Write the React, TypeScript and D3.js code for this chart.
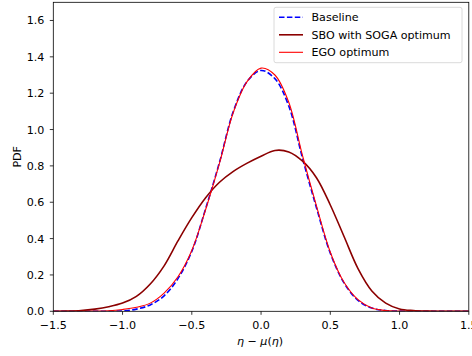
import React from 'react';
import * as d3 from 'd3';

// eta - mu(eta) grid shared by all three curves
const etaGrid = [
  -1.5, -1.4, -1.3, -1.2, -1.1, -1.0, -0.9, -0.8, -0.7, -0.6, -0.5, -0.4, -0.3, -0.2, -0.1,
  0.0, 0.1, 0.2, 0.3, 0.4, 0.5, 0.6, 0.7, 0.8, 0.9, 1.0, 1.1, 1.2, 1.3, 1.4, 1.5,
];

const baselinePdf = [
  0, 0, 0, 0, 0.0005, 0.002, 0.012, 0.035, 0.085, 0.18, 0.33, 0.565, 0.82, 1.1, 1.265,
  1.325, 1.28, 1.13, 0.84, 0.57, 0.32, 0.155, 0.06, 0.018, 0.004, 0.001, 0, 0, 0, 0, 0,
];

const sboPdf = [
  0, 0.001, 0.004, 0.012, 0.025, 0.045, 0.082, 0.15, 0.25, 0.387, 0.515, 0.625, 0.71, 0.77, 0.815,
  0.853, 0.885, 0.877, 0.826, 0.735, 0.585, 0.41, 0.235, 0.112, 0.045, 0.013, 0.004, 0.001, 0, 0, 0,
];

const egoPdf = [
  0, 0, 0.0005, 0.001, 0.003, 0.01, 0.022, 0.045, 0.1, 0.19, 0.335, 0.56, 0.815, 1.095, 1.265,
  1.338, 1.3, 1.15, 0.855, 0.58, 0.325, 0.158, 0.064, 0.018, 0.004, 0.001, 0, 0, 0, 0, 0,
];

const xTicks = [-1.5, -1.0, -0.5, 0.0, 0.5, 1.0, 1.5];
const yTicks = [0.0, 0.2, 0.4, 0.6, 0.8, 1.0, 1.2, 1.4, 1.6];

const seriesList = [
  { name: 'Baseline', values: baselinePdf, color: '#0000ff', width: 1.6, dash: '5.5,2.4' },
  { name: 'SBO with SOGA optimum', values: sboPdf, color: '#8b0000', width: 1.6, dash: null },
  { name: 'EGO optimum', values: egoPdf, color: '#ff0000', width: 1.1, dash: null },
];

const W = 472;
const H = 356;
const FONT = 'DejaVu Sans, sans-serif';
const FS = 11.1;
const fmt = (v: number) => v.toFixed(1).replace('-', '\u2212');

export default function App() {
  const x = d3.scaleLinear().domain([-1.5, 1.5]).range([53.3, 468.8]);
  const y = d3.scaleLinear().domain([0, 1.7]).range([311.3, 2.3]);

  const line = d3
    .line<number>()
    .x((_, i) => x(etaGrid[i]))
    .y((d) => y(d))
    .curve(d3.curveCatmullRom.alpha(0.5));

  const [x0, x1] = x.range();
  const [y0, y1] = y.range();

  return (
    <svg
      width={W}
      height={H}
      style={{ position: 'absolute', left: 0, top: 0, background: '#fff' }}
      fontFamily={FONT}
    >
      <rect width={W} height={H} fill="#fff" />
      <defs>
        <clipPath id="plot">
          <rect x={x0} y={y1} width={x1 - x0} height={y0 - y1} />
        </clipPath>
      </defs>

      {/* curves */}
      <g clipPath="url(#plot)">
        {seriesList.map((s) => (
          <path
            key={s.name}
            d={line(s.values) || ''}
            fill="none"
            stroke={s.color}
            strokeWidth={s.width}
            strokeDasharray={s.dash || undefined}
          />
        ))}
      </g>

      {/* spines */}
      <rect x={x0} y={y1} width={x1 - x0} height={y0 - y1} fill="none" stroke="#000" strokeWidth={0.8} />

      {/* x axis */}
      {xTicks.map((t) => (
        <g key={'x' + t}>
          <line x1={x(t)} x2={x(t)} y1={y0} y2={y0 + 3.5} stroke="#000" strokeWidth={0.8} />
          <text x={x(t)} y={y0 + 18} fontSize={FS} textAnchor="middle" fill="#000">
            {fmt(t)}
          </text>
        </g>
      ))}

      {/* y axis */}
      {yTicks.map((t) => (
        <g key={'y' + t}>
          <line x1={x0 - 3.5} x2={x0} y1={y(t)} y2={y(t)} stroke="#000" strokeWidth={0.8} />
          <text x={x0 - 9} y={y(t) + 4} fontSize={FS} textAnchor="end" fill="#000">
            {fmt(t)}
          </text>
        </g>
      ))}

      {/* axis labels */}
      <text x={(x0 + x1) / 2 - 1} y={345} fontSize={FS} textAnchor="middle" fill="#000">
        <tspan fontStyle="italic">η</tspan>
        <tspan> − </tspan>
        <tspan fontStyle="italic">μ</tspan>
        <tspan>(</tspan>
        <tspan fontStyle="italic">η</tspan>
        <tspan>)</tspan>
      </text>
      <text
        transform={`translate(20.5,${(y0 + y1) / 2}) rotate(-90)`}
        fontSize={FS}
        textAnchor="middle"
        fill="#000"
      >
        PDF
      </text>

      {/* legend */}
      <g>
        <rect x={274} y={7.3} width={188} height={55.4} rx={2} fill="#fff" fillOpacity={0.8} stroke="#d0d0d0" strokeWidth={0.8} />
        {seriesList.map((s, i) => {
          const ly = 17.3 + i * 17.5;
          return (
            <g key={'lg' + s.name}>
              <line
                x1={279}
                x2={303}
                y1={ly}
                y2={ly}
                stroke={s.color}
                strokeWidth={s.width}
                strokeDasharray={s.dash || undefined}
              />
              <text x={311.5} y={ly + 4} fontSize={FS} fill="#000">
                {s.name}
              </text>
            </g>
          );
        })}
      </g>
    </svg>
  );
}
